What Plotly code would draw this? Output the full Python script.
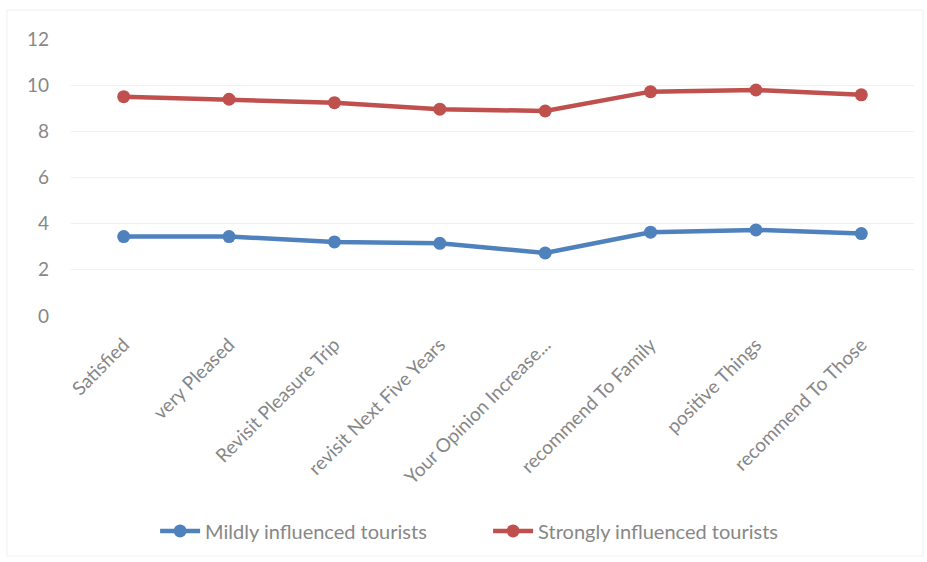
import plotly.graph_objects as go

categories = ["Satisfied", "very Pleased", "Revisit Pleasure Trip", "revisit Next Five Years",
              "Your Opinion Increase...", "recommend To Family", "positive Things", "recommend To Those"]
mildly = [3.44, 3.44, 3.21, 3.15, 2.73, 3.63, 3.73, 3.57]
strongly = [9.50, 9.39, 9.24, 8.96, 8.88, 9.72, 9.79, 9.58]
y_ticks = [0, 2, 4, 6, 8, 10, 12]

BLUE = "#4f81bd"
RED = "#c0504d"
TXT = "#878787"
FONT = "Lato"

fig = go.Figure()
fig.add_trace(go.Scatter(x=categories, y=mildly, mode="lines+markers", name="Mildly influenced tourists",
                         line=dict(color=BLUE, width=4.5), marker=dict(size=13, color=BLUE)))
fig.add_trace(go.Scatter(x=categories, y=strongly, mode="lines+markers", name="Strongly influenced tourists",
                         line=dict(color=RED, width=4.5), marker=dict(size=13, color=RED)))

fig.update_layout(
    width=927, height=562,
    margin=dict(l=71, r=13, t=39, b=246),
    paper_bgcolor="white", plot_bgcolor="white",
    font=dict(family=FONT, color=TXT, size=18),
    showlegend=True,
    legend=dict(orientation="h", x=(155 - 71) / 842, xanchor="left", y=-0.776, yanchor="middle",
                font=dict(size=20, color=TXT), itemwidth=40, tracegroupgap=0,
                entrywidth=278, entrywidthmode="pixels"),
    xaxis=dict(type="category", tickangle=-45, showgrid=False, showline=False, ticks="",
               tickfont=dict(size=19, color=TXT), range=[-0.5, 7.5], ticklabelstandoff=13),
    yaxis=dict(range=[0, 12], tickvals=y_ticks, showgrid=True, gridcolor="#f0f0f0", gridwidth=1,
               zeroline=False, showline=False, ticks="", ticklabelstandoff=21,
               tickfont=dict(size=19, color=TXT)),
    shapes=[dict(type="rect", xref="paper", yref="paper",
                 x0=-64/842, x1=1 + 9/842, y0=-(556 - 316) / 277, y1=1 + 29/277,
                 line=dict(color="#efefef", width=1), fillcolor="rgba(0,0,0,0)", layer="below")],
)

fig.write_html("out.html")
